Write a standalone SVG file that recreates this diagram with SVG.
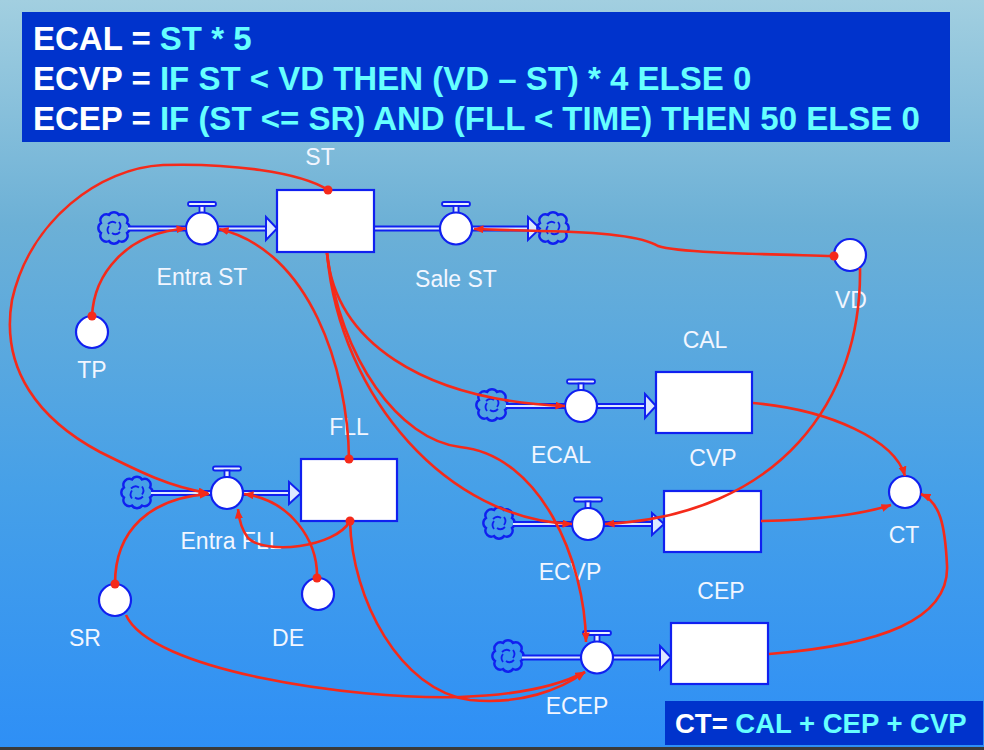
<svg xmlns="http://www.w3.org/2000/svg" xmlns:xlink="http://www.w3.org/1999/xlink" width="984" height="750" viewBox="0 0 984 750">
<defs>
<linearGradient id="bg" x1="0" y1="0" x2="0" y2="1">
<stop offset="0" stop-color="#a2cfe0"/>
<stop offset="0.3" stop-color="#6cb0d6"/>
<stop offset="0.65" stop-color="#46a0e8"/>
<stop offset="1" stop-color="#2e8ff6"/>
</linearGradient>
<marker id="arr" viewBox="0 0 10 8" refX="9.5" refY="4" markerWidth="10" markerHeight="8" markerUnits="userSpaceOnUse" orient="auto">
<path d="M0,0 L10,4 L0,8 z" fill="#f52a1a"/>
</marker>
<g id="cloud">
<path d="M-13,-5 a6,6 0 0 1 8,-8 a6,6 0 0 1 10,0 a6,6 0 0 1 8,8 a6,6 0 0 1 0,10 a6,6 0 0 1 -8,8 a6,6 0 0 1 -10,0 a6,6 0 0 1 -8,-8 a6,6 0 0 1 0,-10 z" fill="none" stroke="#1020f0" stroke-width="2.4"/>
<path d="M-6,-4 q4,-4 8,-1 M5,-6 q3,4 0,8 M6,4 q-4,4 -8,1 M-5,6 q-3,-4 0,-8" fill="none" stroke="#1020f0" stroke-width="1.8"/>
</g>
<g id="valve">
<rect x="-14" y="-26.5" width="28" height="4" rx="2" fill="#e8f0ff" stroke="#1020f0" stroke-width="1.8"/>
<rect x="-2.5" y="-22.5" width="5" height="7" fill="#e8f0ff" stroke="#1020f0" stroke-width="1.8"/>
<circle r="16" fill="#ffffff" stroke="#1020f0" stroke-width="2.2"/>
</g>
</defs>
<style>
.pipe{fill:none;stroke:#1020f0;stroke-width:6}
.pipein{fill:none;stroke:#dce8ff;stroke-width:2}
.tri{fill:#dce8ff;stroke:#1020f0;stroke-width:2;stroke-linejoin:miter}
.stock{fill:#ffffff;stroke:#1020f0;stroke-width:2.2}
.aux{fill:#ffffff;stroke:#1020f0;stroke-width:2.2}
.lbl{font-family:"Liberation Sans",Arial,sans-serif;font-size:23px;fill:#f2f6ff;text-anchor:middle}
.link{fill:none;stroke:#f52a1a;stroke-width:2.6;marker-end:url(#arr)}
.dot{fill:#f52a1a}
.hw{font-family:"Liberation Sans",Arial,sans-serif;font-weight:bold;fill:#ffffff}
.hc{fill:#66ffff}
</style>
<rect x="0" y="0" width="984" height="750" fill="url(#bg)"/>
<rect x="0" y="747" width="984" height="3" fill="#3a3a3a"/>

<g id="header">
<rect x="22" y="12" width="928" height="130" fill="#0033cc"/>
<text class="hw" x="33" y="50" font-size="33">ECAL = <tspan class="hc">ST * 5</tspan></text>
<text class="hw" x="33" y="90" font-size="33">ECVP = <tspan class="hc">IF ST &lt; VD THEN (VD – ST) * 4 ELSE 0</tspan></text>
<text class="hw" x="33" y="130" font-size="33">ECEP = <tspan class="hc">IF (ST &lt;= SR) AND (FLL &lt; TIME) THEN 50 ELSE 0</tspan></text>
</g>

<g id="ct-formula">
<rect x="665" y="701" width="318" height="44" fill="#0033cc"/>
<text class="hw" x="675" y="733" font-size="27.5">CT= <tspan class="hc">CAL + CEP + CVP</tspan></text>
</g>

<!-- flows -->
<g id="flow-entra-st">
<use xlink:href="#cloud" x="114" y="228"/>
<path class="pipe" d="M128,228.5 H267"/><path class="pipein" d="M128,228.5 H267"/>
<polygon class="tri" points="266,217 277,228.5 266,240"/>
<use xlink:href="#valve" x="202" y="228.5"/>
<text class="lbl" x="202" y="285">Entra ST</text>
</g>
<g id="flow-sale-st">
<path class="pipe" d="M374,228.5 H529"/><path class="pipein" d="M374,228.5 H529"/>
<polygon class="tri" points="528,217 540,228.5 528,240"/>
<use xlink:href="#cloud" x="553" y="228"/>
<use xlink:href="#valve" x="456" y="228.5"/>
<text class="lbl" x="456" y="287">Sale ST</text>
</g>
<g id="flow-ecal">
<use xlink:href="#cloud" x="492" y="405"/>
<path class="pipe" d="M506,406 H646"/><path class="pipein" d="M506,406 H646"/>
<polygon class="tri" points="645,394 656,406 645,418"/>
<use xlink:href="#valve" x="581" y="406"/>
<text class="lbl" x="561" y="463">ECAL</text>
</g>
<g id="flow-ecvp">
<use xlink:href="#cloud" x="499" y="523"/>
<path class="pipe" d="M513,524 H653"/><path class="pipein" d="M513,524 H653"/>
<polygon class="tri" points="652,513 664,524 652,535"/>
<use xlink:href="#valve" x="588" y="524"/>
<text class="lbl" x="570" y="580">ECVP</text>
</g>
<g id="flow-ecep">
<use xlink:href="#cloud" x="508" y="656"/>
<path class="pipe" d="M522,657.5 H661"/><path class="pipein" d="M522,657.5 H661"/>
<polygon class="tri" points="660,646 671,657.5 660,669"/>
<use xlink:href="#valve" x="597" y="657.5"/>
<text class="lbl" x="577" y="714">ECEP</text>
</g>
<g id="flow-entra-fll">
<use xlink:href="#cloud" x="137" y="492.5"/>
<path class="pipe" d="M151,493 H290"/><path class="pipein" d="M151,493 H290"/>
<polygon class="tri" points="289,482 301,493 289,504"/>
<use xlink:href="#valve" x="227" y="493"/>
<text class="lbl" x="231" y="549">Entra FLL</text>
</g>

<!-- stocks -->
<g id="stock-st"><rect class="stock" x="277" y="190" width="97" height="62"/><text class="lbl" x="320" y="165">ST</text></g>
<g id="stock-fll"><rect class="stock" x="301" y="459" width="96" height="62"/><text class="lbl" x="349" y="435">FLL</text></g>
<g id="stock-cal"><rect class="stock" x="656" y="372" width="96" height="61"/><text class="lbl" x="705" y="348">CAL</text></g>
<g id="stock-cvp"><rect class="stock" x="664" y="491" width="97" height="61"/><text class="lbl" x="713" y="466">CVP</text></g>
<g id="stock-cep"><rect class="stock" x="671" y="623" width="97" height="61"/><text class="lbl" x="721" y="599">CEP</text></g>

<!-- auxiliaries -->
<g id="aux-tp"><circle class="aux" cx="92" cy="332" r="16"/><text class="lbl" x="92" y="378">TP</text></g>
<g id="aux-vd"><circle class="aux" cx="850" cy="255" r="16"/><text class="lbl" x="851" y="308">VD</text></g>
<g id="aux-ct"><circle class="aux" cx="905" cy="492" r="16"/><text class="lbl" x="904" y="543">CT</text></g>
<g id="aux-sr"><circle class="aux" cx="115" cy="600" r="16"/><text class="lbl" x="85" y="646">SR</text></g>
<g id="aux-de"><circle class="aux" cx="318" cy="594" r="16"/><text class="lbl" x="288" y="646">DE</text></g>

<!-- connectors -->
<g id="connectors">
<path class="link" d="M328,190 C300,172 230,163 163,165 C100,168 30,220 12,300 C0,370 40,420 100,452 C140,472 170,487 208,493"/>
<path class="link" d="M92,316 C94,275 125,233 186,228.5"/>
<path class="link" d="M349,459 C348,370 310,250 219,229"/>
<path class="link" d="M327,253 C335,340 420,400 565,406"/>
<path class="link" d="M327,253 C340,400 450,520 572,524"/>
<path class="link" d="M327,253 C340,360 400,440 460,447 C540,455 585,560 586,642"/>
<path class="link" d="M833,256 C760,254 680,253 658,246 C645,238 610,232 540,231 L474,229"/>
<path class="link" d="M860,268 C862,400 780,515 605,524"/>
<path class="link" d="M753,403 C830,410 895,440 905,476"/>
<path class="link" d="M761,521 C810,520 860,515 891,505"/>
<path class="link" d="M769,654 C880,645 950,620 947,565 C945,525 940,502 921,494"/>
<path class="link" d="M350,521 C335,548 265,555 248,538 C242,530 239,520 238,509"/>
<path class="link" d="M317,578 C318,540 290,500 244,494"/>
<path class="link" d="M115,584 C115,530 150,498 209,494"/>
<path class="link" d="M126,615 C150,670 350,700 460,697 C520,695 560,685 585,672"/>
<path class="link" d="M350,521 C352,600 400,690 470,700 C520,705 560,690 585,672"/>
<circle class="dot" cx="328" cy="190" r="4.5"/>
<circle class="dot" cx="92" cy="316" r="4.5"/>
<circle class="dot" cx="349" cy="459" r="4.5"/>
<circle class="dot" cx="834" cy="256" r="4.5"/>
<circle class="dot" cx="350" cy="521" r="4.5"/>
<circle class="dot" cx="317" cy="578" r="4.5"/>
<circle class="dot" cx="115" cy="584" r="4.5"/>
</g>
</svg>
